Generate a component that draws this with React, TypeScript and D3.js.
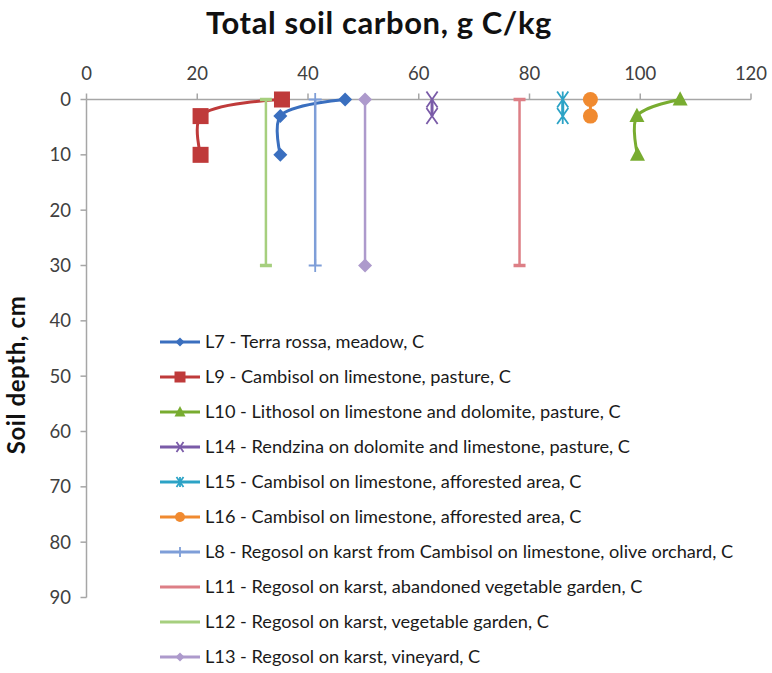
import React from "react";
import * as d3 from "d3";

const W = 772;
const H = 673;

const xTicks = [0, 20, 40, 60, 80, 100, 120];
const yTicks = [0, 10, 20, 30, 40, 50, 60, 70, 80, 90];

const depthsA = [0, 3, 10];
const depthsB = [0, 3];
const depthsC = [0, 30];

const L7 = [46.7, 35.0, 35.0];
const L9 = [35.3, 20.6, 20.6];
const L10 = [107.2, 99.4, 99.5];
const L14 = [62.4, 62.4];
const L15 = [86.0, 86.0];
const L16 = [91.0, 91.0];
const L8 = [41.3, 41.3];
const L11 = [78.2, 78.2];
const L12 = [32.4, 32.4];
const L13 = [50.3, 50.3];

type Marker = "diamond" | "square" | "triangle" | "x" | "star" | "circle" | "plus" | "dash" | "none";

const series = [
  { name: "L7 - Terra rossa, meadow, C", values: L7, depths: depthsA, color: "#3A6FBF", marker: "diamond" as Marker, legendMarker: "diamond" as Marker },
  { name: "L9 - Cambisol on limestone, pasture, C", values: L9, depths: depthsA, color: "#BF3A3A", marker: "square" as Marker, legendMarker: "square" as Marker },
  { name: "L10 - Lithosol on limestone and dolomite, pasture, C", values: L10, depths: depthsA, color: "#78AC30", marker: "triangle" as Marker, legendMarker: "triangle" as Marker },
  { name: "L14 - Rendzina on dolomite and limestone, pasture, C", values: L14, depths: depthsB, color: "#7A5BA8", marker: "x" as Marker, legendMarker: "x" as Marker },
  { name: "L15 - Cambisol on limestone, afforested area, C", values: L15, depths: depthsB, color: "#2CA3C6", marker: "star" as Marker, legendMarker: "star" as Marker },
  { name: "L16 - Cambisol on limestone, afforested area, C", values: L16, depths: depthsB, color: "#F08A30", marker: "circle" as Marker, legendMarker: "circle" as Marker },
  { name: "L8 - Regosol on karst from Cambisol on limestone, olive orchard, C", values: L8, depths: depthsC, color: "#7E9ED8", marker: "plus" as Marker, legendMarker: "plus" as Marker },
  { name: "L11 - Regosol on karst, abandoned vegetable garden, C", values: L11, depths: depthsC, color: "#DD7F86", marker: "dash" as Marker, legendMarker: "none" as Marker },
  { name: "L12 - Regosol on karst, vegetable garden, C", values: L12, depths: depthsC, color: "#A6CF7E", marker: "dash" as Marker, legendMarker: "none" as Marker },
  { name: "L13 - Regosol on karst, vineyard, C", values: L13, depths: depthsC, color: "#AD9ACC", marker: "diamond" as Marker, legendMarker: "diamond" as Marker },
];

const FONT = "Lato, 'Open Sans', sans-serif";

function MarkerShape({ type, cx, cy, color, s }: { type: Marker; cx: number; cy: number; color: string; s: number }) {
  switch (type) {
    case "diamond":
      return <path d={`M${cx},${cy - s}L${cx + s},${cy}L${cx},${cy + s}L${cx - s},${cy}Z`} fill={color} />;
    case "square":
      return <rect x={cx - s} y={cy - s} width={2 * s} height={2 * s} fill={color} />;
    case "triangle":
      return <path d={`M${cx},${cy - s * 1.1}L${cx + s},${cy + s * 0.8}L${cx - s},${cy + s * 0.8}Z`} fill={color} />;
    case "circle":
      return <circle cx={cx} cy={cy} r={s} fill={color} />;
    case "x":
      return (
        <path d={`M${cx - s * 0.7},${cy - s}L${cx + s * 0.7},${cy + s}M${cx + s * 0.7},${cy - s}L${cx - s * 0.7},${cy + s}`} stroke={color} strokeWidth={1.8} fill="none" />
      );
    case "star":
      return (
        <path
          d={`M${cx - s * 0.7},${cy - s}L${cx + s * 0.7},${cy + s}M${cx + s * 0.7},${cy - s}L${cx - s * 0.7},${cy + s}M${cx},${cy - s}L${cx},${cy + s}`}
          stroke={color}
          strokeWidth={1.8}
          fill="none"
        />
      );
    case "plus":
      return <path d={`M${cx - s},${cy}L${cx + s},${cy}M${cx},${cy - s}L${cx},${cy + s}`} stroke={color} strokeWidth={1.8} fill="none" />;
    case "dash":
      return <path d={`M${cx - s},${cy}L${cx + s},${cy}`} stroke={color} strokeWidth={3.5} fill="none" />;
    default:
      return null;
  }
}

const markerSize: Record<string, number> = {
  diamond: 7,
  square: 8,
  triangle: 7.5,
  circle: 7.5,
  x: 8,
  star: 8,
  plus: 6.5,
  dash: 6,
  none: 0,
};

const legendSize: Record<string, number> = {
  diamond: 4.5,
  square: 5.5,
  triangle: 5.5,
  circle: 5,
  x: 5,
  star: 5,
  plus: 5,
  dash: 0,
  none: 0,
};

export default function App() {
  const x = d3.scaleLinear().domain([0, 120]).range([86.5, 751]);
  const y = d3.scaleLinear().domain([0, 90]).range([99.5, 597.5]);
  const axisColor = "#A6A6A6";
  const line = d3
    .line<[number, number]>()
    .x((d) => x(d[0]))
    .y((d) => y(d[1]))
    .curve(d3.curveCatmullRom.alpha(0.5));

  const legendX0 = 160;
  const legendY0 = 342;
  const legendStep = 35;

  return (
    <svg width={W} height={H} style={{ position: "absolute", left: 0, top: 0, background: "#fff" }} fontFamily={FONT}>
      <rect x={0} y={0} width={W} height={H} fill="#fff" />
      <text x={379} y={34} textAnchor="middle" fontSize={31} fontWeight="bold" letterSpacing={0.6} fill="#111">
        Total soil carbon, g C/kg
      </text>

      {/* x axis at top */}
      <line x1={x(0)} x2={x(120)} y1={y(0)} y2={y(0)} stroke={axisColor} strokeWidth={1.5} />
      {xTicks.map((t) => (
        <g key={"xt" + t}>
          <line x1={x(t)} x2={x(t)} y1={y(0)} y2={y(0) - 6} stroke={axisColor} strokeWidth={1.5} />
          <text x={x(t)} y={80} textAnchor="middle" fontSize={18.5} fill="#404040">
            {t}
          </text>
        </g>
      ))}

      {/* y axis */}
      <line x1={x(0)} x2={x(0)} y1={y(0)} y2={y(90)} stroke={axisColor} strokeWidth={1.5} />
      {yTicks.map((t) => (
        <g key={"yt" + t}>
          <line x1={x(0) - 6} x2={x(0)} y1={y(t)} y2={y(t)} stroke={axisColor} strokeWidth={1.5} />
          <text x={71} y={y(t)} dy="0.36em" textAnchor="end" fontSize={18.5} fill="#404040">
            {t}
          </text>
        </g>
      ))}
      <text transform={`translate(25,375) rotate(-90)`} textAnchor="middle" fontSize={24} fontWeight="bold" letterSpacing={0.6} fill="#111">
        Soil depth, cm
      </text>

      {/* series */}
      {series.map((s) => {
        const pts = s.values.map((v, i) => [v, s.depths[i]] as [number, number]);
        const thin = s.depths === depthsC;
        return (
          <g key={s.name}>
            <path d={line(pts) || ""} fill="none" stroke={s.color} strokeWidth={thin ? 2.5 : 3} />
            {pts.map((p, i) => (
              <MarkerShape key={i} type={s.marker} cx={x(p[0])} cy={y(p[1])} color={s.color} s={markerSize[s.marker]} />
            ))}
          </g>
        );
      })}

      {/* legend */}
      {series.map((s, i) => {
        const cy = legendY0 + i * legendStep;
        return (
          <g key={"lg" + s.name}>
            <line x1={legendX0} x2={legendX0 + 40} y1={cy} y2={cy} stroke={s.color} strokeWidth={3} />
            <MarkerShape type={s.legendMarker} cx={legendX0 + 20} cy={cy} color={s.color} s={legendSize[s.legendMarker]} />
            <text x={legendX0 + 45} y={cy} dy="0.35em" fontSize={18.2} fill="#1a1a1a">
              {s.name}
            </text>
          </g>
        );
      })}
    </svg>
  );
}
